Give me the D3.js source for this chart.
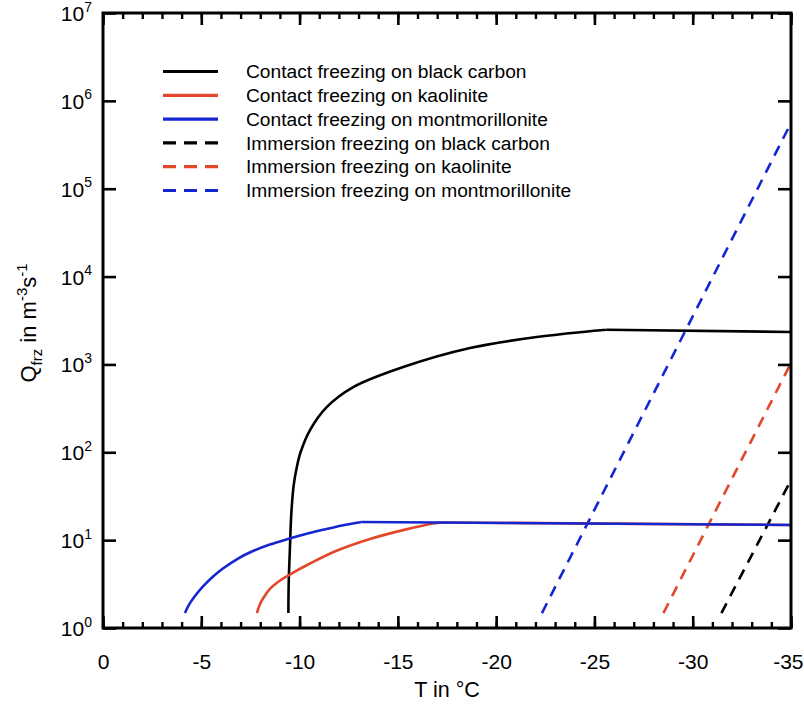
<!DOCTYPE html>
<html><head><meta charset="utf-8">
<script src="https://cdn.jsdelivr.net/npm/d3@7"></script>
<style>
body{margin:0;background:#fff}
svg{display:block}
text{font-family:"Liberation Sans",Arial,Helvetica,sans-serif;fill:#000}
</style>
</head><body>
<svg id="chart" width="804" height="707"></svg>
<script>
// ---------- data ----------
const xTickValues = [0, -5, -10, -15, -20, -25, -30, -35];
const xTickLabels = ["0", "-5", "-10", "-15", "-20", "-25", "-30", "-35"];
const xMinorValues = d3.range(0, -35.5, -1);
const yTickExponents = [0, 1, 2, 3, 4, 5, 6, 7];

// Contact freezing (T in degC, Q in m^-3 s^-1)
const contactBCRise = [[-9.43,1.48],[-9.45,3.5],[-9.5,7.1],[-9.58,20],[-9.7,42],[-9.86,68],[-10.05,100],[-10.53,179],[-11.38,327],[-12.73,553],[-15.27,935],[-18.67,1540],[-22.06,2050],[-25.6,2480]];
const contactBCPlateau = [[-25.6,2480],[-35,2340]];
const contactKaoRise = [[-7.83,1.48],[-7.99,1.88],[-8.19,2.25],[-8.49,2.78],[-8.90,3.34],[-9.46,4.01],[-10.53,5.42],[-11.85,7.52],[-13.58,10.3],[-15.26,13.0],[-16.79,15.5],[-17.24,15.9]];
const contactKaoPlateau = [[-17.24,15.9],[-35,14.9]];
const contactMontRise = [[-4.17,1.48],[-4.37,1.83],[-4.68,2.31],[-5.09,2.97],[-5.60,3.85],[-6.10,4.75],[-6.87,6.18],[-7.63,7.52],[-8.49,8.91],[-9.41,10.3],[-10.27,11.65],[-11.19,13.1],[-12.16,14.7],[-13.16,16.1]];
const contactMontPlateau = [[-13.16,16.1],[-35,14.9]];
// Immersion freezing (straight lines in log space)
const immersionBC = [[-31.46,1.48],[-35,48.3]];
const immersionKao = [[-28.51,1.48],[-35,1040]];
const immersionMont = [[-22.33,1.48],[-35,5.6e5]];

const legendLabels = [
  "Contact freezing on black carbon",
  "Contact freezing on kaolinite",
  "Contact freezing on montmorillonite",
  "Immersion freezing on black carbon",
  "Immersion freezing on kaolinite",
  "Immersion freezing on montmorillonite"
];

// ---------- styles ----------
const BLACK = "#000000", RED = "#e2472a", BLUE = "#1426d2";
const legendColors = [BLACK, RED, BLUE, BLACK, RED, BLUE];
const legendDashed = [false, false, false, true, true, true];

// ---------- layout ----------
const L = 103, R = 791, T = 13, B = 628;
const svg = d3.select("#chart");
const x = d3.scaleLinear().domain([0, -35]).range([L, R]);
const y = d3.scaleLog().domain([1, 1e7]).range([B, T]);

svg.append("defs").append("clipPath").attr("id","clip")
  .append("rect").attr("x",L).attr("y",T).attr("width",R-L).attr("height",B-T);

const plot = svg.append("g").attr("clip-path","url(#clip)");
const line = d3.line().x(d => x(d[0])).y(d => y(d[1]));
const smooth = d3.line().x(d => x(d[0])).y(d => y(d[1])).curve(d3.curveCatmullRom.alpha(0.5));

function draw(data, color, dashed, curved){
  plot.append("path").datum(data)
    .attr("d", curved ? smooth : line)
    .attr("fill","none").attr("stroke",color)
    .attr("stroke-width", 2.6)
    .attr("stroke-linejoin","round")
    .attr("stroke-dasharray", dashed ? "11,8" : null);
}
draw(immersionBC, BLACK, true, false);
draw(immersionKao, RED, true, false);
draw(immersionMont, BLUE, true, false);
draw(contactBCRise, BLACK, false, true);
draw(contactBCPlateau, BLACK, false, false);
draw(contactKaoRise, RED, false, true);
draw(contactKaoPlateau, RED, false, false);
draw(contactMontRise, BLUE, false, true);
draw(contactMontPlateau, BLUE, false, false);

// ---------- axes ----------
function styleAxis(g, w){
  g.select(".domain").remove();
  g.selectAll(".tick line").attr("stroke","#000").attr("stroke-width", w);
}
svg.append("g").attr("transform",`translate(0,${B})`)
  .call(d3.axisBottom(x).tickValues(xMinorValues).tickSize(-6).tickFormat(""))
  .call(g => styleAxis(g, 2.4));
svg.append("g").attr("transform",`translate(0,${T})`)
  .call(d3.axisTop(x).tickValues(xMinorValues).tickSize(-6).tickFormat(""))
  .call(g => styleAxis(g, 2.4));
svg.append("g").attr("transform",`translate(0,${B})`)
  .call(d3.axisBottom(x).tickValues(xTickValues).tickSize(-12).tickPadding(26)
        .tickFormat((d,i) => xTickLabels[i]))
  .call(g => styleAxis(g, 2.6))
  .call(g => g.selectAll(".tick text").attr("font-size", 21).attr("fill","#000")
               .attr("font-family",'"Liberation Sans",Arial,sans-serif').attr("dy","0.71em"))
  .call(g => g.selectAll(".tick text").filter((d,i,n) => i === n.length - 1)
               .attr("text-anchor","end").attr("x", 803 - R));
svg.append("g").attr("transform",`translate(0,${T})`)
  .call(d3.axisTop(x).tickValues(xTickValues).tickSize(-12).tickFormat(""))
  .call(g => styleAxis(g, 2.6));
const yTicks = yTickExponents.map(e => Math.pow(10, e));
svg.append("g").attr("transform",`translate(${L},0)`)
  .call(d3.axisLeft(y).tickValues(yTicks).tickSize(-13).tickFormat(""))
  .call(g => styleAxis(g, 2.6))
  .call(g => g.selectAll(".tick").each(function(d, i){
      const t = d3.select(this).append("text")
        .attr("x", -11).attr("y", 7.5)
        .attr("text-anchor","end").attr("font-size",21).attr("fill","#000")
        .attr("font-family",'"Liberation Sans",Arial,sans-serif');
      t.append("tspan").text("10");
      t.append("tspan").attr("font-size",14).attr("dy",-9.5).text(String(yTickExponents[i]));
  }));
svg.append("g").attr("transform",`translate(${R},0)`)
  .call(d3.axisRight(y).tickValues(yTicks).tickSize(-13).tickFormat(""))
  .call(g => styleAxis(g, 2.6));

// frame
svg.append("rect").attr("x",L).attr("y",T).attr("width",R-L).attr("height",B-T)
  .attr("fill","none").attr("stroke","#000").attr("stroke-width",3);

// ---------- axis titles ----------
svg.append("text").attr("x",(L+R)/2).attr("y",697).attr("text-anchor","middle")
  .attr("font-size",21.5).text("T in °C");

const yl = svg.append("text").attr("transform","translate(36,323) rotate(-90)")
  .attr("text-anchor","middle").attr("font-size",22);
yl.append("tspan").text("Q");
yl.append("tspan").attr("font-size",15).attr("dy",6).text("frz");
yl.append("tspan").attr("dy",-6).text(" in m");
yl.append("tspan").attr("font-size",15).attr("dy",-9).text("-3");
yl.append("tspan").attr("dy",9).text("s");
yl.append("tspan").attr("font-size",15).attr("dy",-9).text("-1");

// ---------- legend ----------
const lg = svg.append("g");
legendLabels.forEach((lab, i) => {
  const yy = 71.5 + i * 23.8;
  lg.append("line").attr("x1",163).attr("x2",218).attr("y1",yy).attr("y2",yy)
    .attr("stroke", legendColors[i]).attr("stroke-width",3.2)
    .attr("stroke-dasharray", legendDashed[i] ? "13,8" : null);
  lg.append("text").attr("x",246).attr("y",yy).attr("dy","0.35em")
    .attr("font-size",19.2).attr("fill","#2a2a2a").text(lab);
});
</script>
</body></html>
